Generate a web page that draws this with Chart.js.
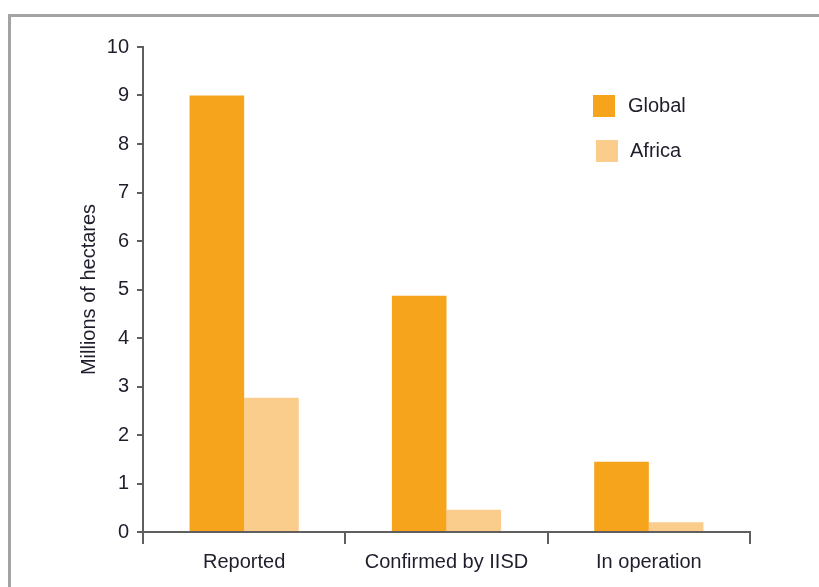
<!DOCTYPE html>
<html>
<head>
<meta charset="utf-8">
<script src="https://cdn.jsdelivr.net/npm/chart.js@4"></script>
<style>
  html, body { margin: 0; padding: 0; background: #fff; }
  #wrap { position: relative; width: 819px; height: 587px; overflow: hidden; }
  #frame {
    position: absolute; left: 8px; top: 14px; width: 830px; height: 600px;
    border-top: 3px solid #a3a3a3; border-left: 3px solid #a3a3a3;
  }
  canvas { position: absolute; left: 0; top: 0; }
</style>
</head>
<body>
<div id="wrap">
  <div id="frame"></div>
  <canvas id="chart" width="819" height="587"></canvas>
</div>
<script>
// data
const categories = ["Reported", "Confirmed by IISD", "In operation"];
const globalVals = [9.0, 4.87, 1.45];
const africaVals = [2.77, 0.46, 0.2];
const yTicks = [0, 1, 2, 3, 4, 5, 6, 7, 8, 9, 10];

const colors = { global: "#f6a41c", africa: "#fbcd8c" };
const textColor = "#1f1e2c";
const axisColor = "#5f5f5f";
const font = { family: "'Liberation Sans', Arial, sans-serif", size: 20 };

// legend drawn inside the plot, top right
const boxLegend = {
  id: "boxLegend",
  afterDraw(chart) {
    const ctx = chart.ctx;
    const spots = [
      { bx: 593, by: 95, tx: 628, ty: 106 },
      { bx: 596, by: 140, tx: 630, ty: 151 }
    ];
    ctx.save();
    ctx.font = `${font.size}px ${font.family}`;
    ctx.textBaseline = "middle";
    chart.data.datasets.forEach((ds, i) => {
      const s = spots[i];
      ctx.fillStyle = ds.backgroundColor;
      ctx.fillRect(s.bx, s.by, 22, 22);
      ctx.fillStyle = textColor;
      ctx.fillText(ds.label, s.tx, s.ty);
    });
    ctx.restore();
  }
};

new Chart(document.getElementById("chart"), {
  type: "bar",
  data: {
    labels: categories,
    datasets: [
      { label: "Global", data: globalVals, backgroundColor: colors.global },
      { label: "Africa", data: africaVals, backgroundColor: colors.africa }
    ]
  },
  options: {
    responsive: false,
    animation: false,
    layout: { padding: { top: 47, right: 69, left: 66, bottom: 0 } },
    datasets: { bar: { categoryPercentage: 0.54, barPercentage: 1.0 } },
    plugins: { legend: { display: false }, tooltip: { enabled: false } },
    scales: {
      x: {
        grid: { display: true, offset: true, drawOnChartArea: false, drawTicks: true,
                tickLength: 12, color: axisColor, lineWidth: 2 },
        border: { display: true, color: axisColor, width: 2 },
        ticks: { color: textColor, font: font, padding: 6 },
        afterFit: (s) => { s.height = 55; }
      },
      y: {
        min: 0, max: 10,
        afterBuildTicks: (s) => { s.ticks = yTicks.map(v => ({ value: v })); },
        grid: { display: true, drawOnChartArea: false, drawTicks: true,
                tickLength: 6, color: axisColor, lineWidth: 2 },
        border: { display: true, color: axisColor, width: 2 },
        ticks: { color: textColor, font: font, padding: 8 },
        title: { display: true, text: "Millions of hectares", color: textColor,
                 font: font, padding: { top: 11, bottom: 0 } },
        afterFit: (s) => { s.width = 77; }
      }
    }
  },
  plugins: [boxLegend]
});
</script>
</body>
</html>
